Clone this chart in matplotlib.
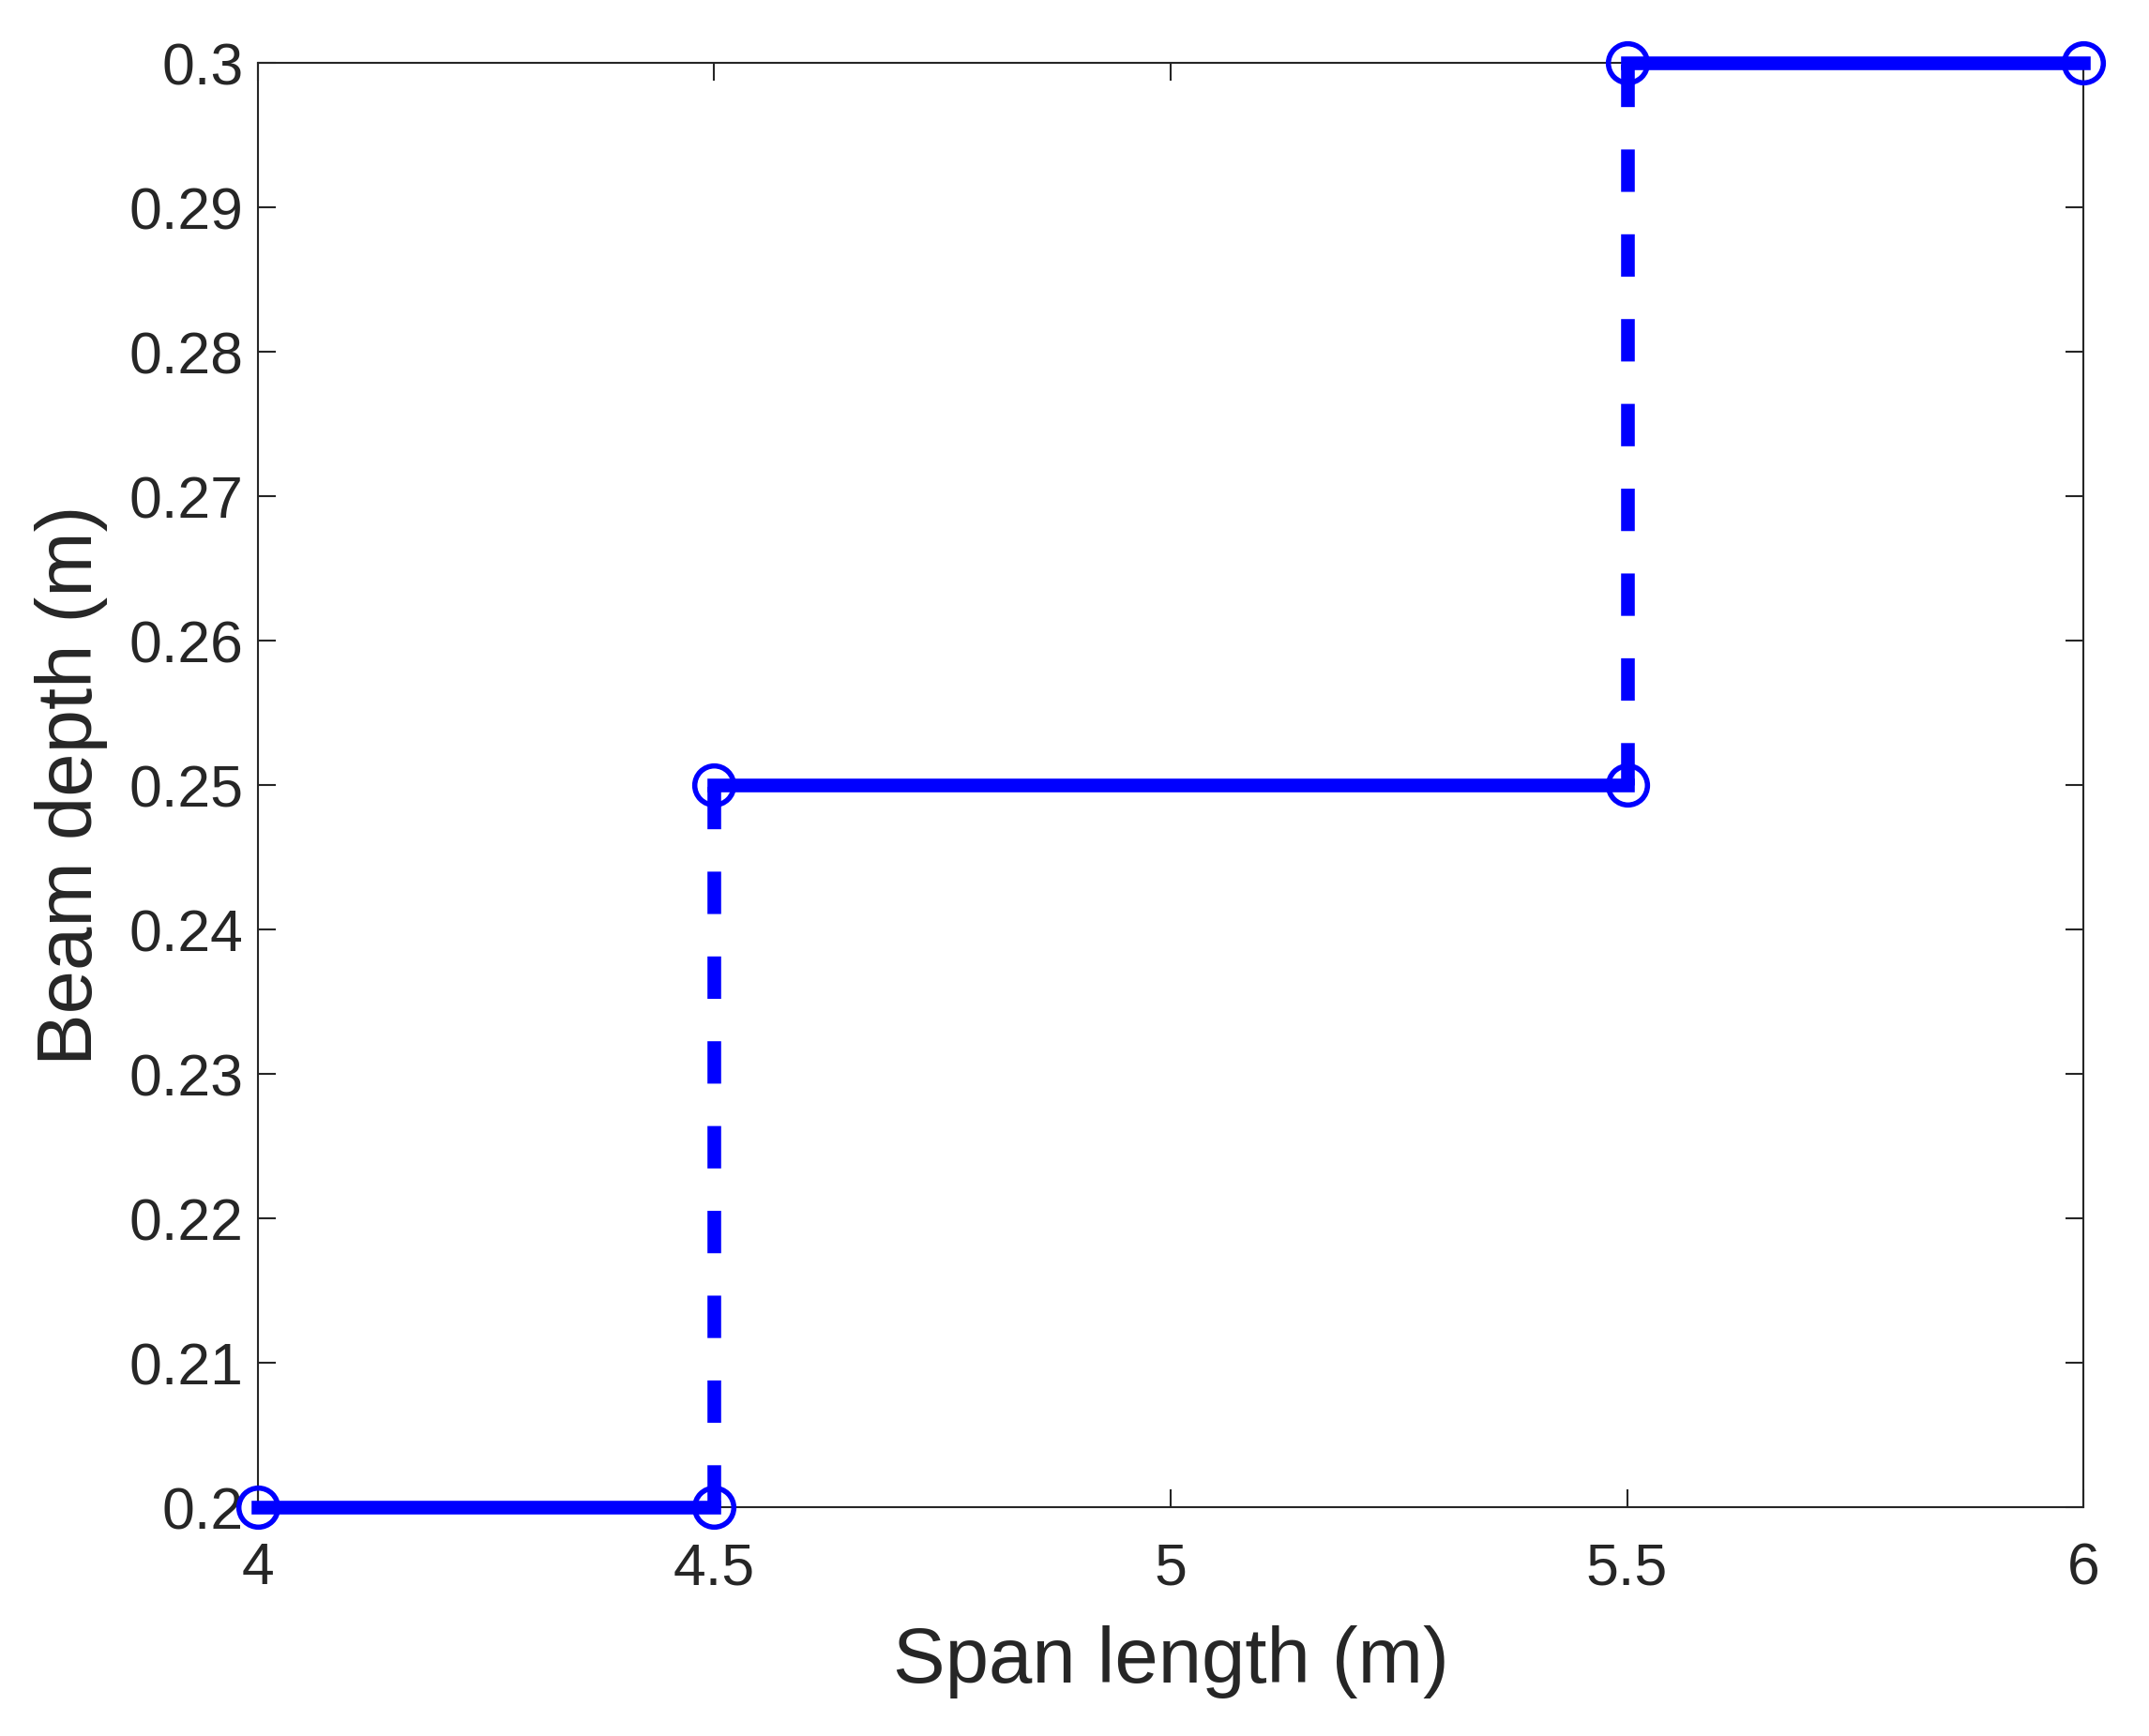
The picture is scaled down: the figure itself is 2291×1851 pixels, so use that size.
import matplotlib
matplotlib.use("Agg")
import matplotlib.pyplot as plt
import numpy as np
from matplotlib.ticker import FuncFormatter

# span break points (m) and beam depth in each range (m)
span_edges = [4, 4.5, 5.5, 6]
beam_depth = [0.2, 0.25, 0.3]

x_ticks = [4, 4.5, 5, 5.5, 6]
y_ticks = np.round(np.arange(0.2, 0.3001, 0.01), 2)

plt.rcParams['font.family'] = ['Liberation Sans', 'DejaVu Sans']

fig = plt.figure(figsize=(22.91, 18.51), dpi=100)
ax = fig.add_axes([0.120, 0.1318, 0.8495, 0.832])

blue = '#0000ff'
lw = 10.5
for i in range(len(beam_depth)):
    ax.plot([span_edges[i], span_edges[i + 1]], [beam_depth[i], beam_depth[i]],
            '-', color=blue, lw=lw, marker='o', ms=30, mfc='none', mew=4,
            clip_on=False, zorder=3)
    if i + 1 < len(beam_depth):
        ax.plot([span_edges[i + 1]] * 2, [beam_depth[i], beam_depth[i + 1]],
                '--', color=blue, lw=lw, dashes=(3.1, 3.1), clip_on=False, zorder=3)

ax.set_xlim(4, 6)
ax.set_ylim(0.2, 0.3)
ax.set_xticks(x_ticks)
ax.set_yticks(y_ticks)
fmt = FuncFormatter(lambda v, p: f"{v:g}")
ax.xaxis.set_major_formatter(fmt)
ax.yaxis.set_major_formatter(fmt)
ax.tick_params(direction='in', length=14, width=1.5, top=True, right=True,
               labelsize=45, colors='#262626')
ax.tick_params(axis='x', pad=26)
ax.tick_params(axis='y', pad=11)
for s in ax.spines.values():
    s.set_color('#262626')
    s.set_linewidth(1.5)

ax.set_xlabel('Span length (m)', fontsize=60, color='#262626', labelpad=22)
ax.set_ylabel('Beam depth (m)', fontsize=60, color='#262626', labelpad=16)

fig.savefig('out.png', dpi=100)
